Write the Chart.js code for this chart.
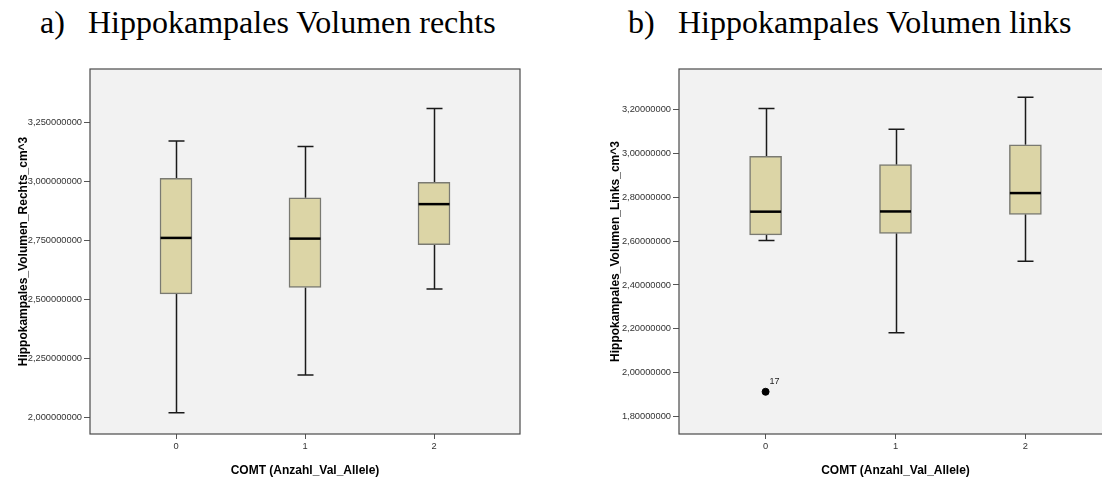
<!DOCTYPE html>
<html>
<head>
<meta charset="utf-8">
<script src="https://cdn.jsdelivr.net/npm/chart.js@4"></script>
<style>
  body { margin: 0; width: 1102px; height: 477px; overflow: hidden; background: #fff; position: relative; }
  .title { position: absolute; top: 6px; font: 32px/32px "Liberation Serif", "Times New Roman", serif; color: #000; white-space: nowrap; }
  canvas { position: absolute; top: 40px; }
</style>
</head>
<body>
<div class="title" style="left:40px">a)</div>
<div class="title" style="left:88px">Hippokampales Volumen rechts</div>
<div class="title" style="left:628px">b)</div>
<div class="title" style="left:678px">Hippokampales Volumen links</div>
<canvas id="chartRechts" width="560" height="437" style="left:0"></canvas>
<canvas id="chartLinks" width="560" height="437" style="left:560px"></canvas>
<script>
// COMT groups (number of Val alleles)
const categories = [0, 1, 2];

// right hippocampus, cm^3
const rechtsMin = [2.021, 2.181, 2.545];
const rechtsQ1 = [2.524, 2.551, 2.732];
const rechtsMedian = [2.761, 2.758, 2.904];
const rechtsQ3 = [3.013, 2.931, 2.996];
const rechtsMax = [3.171, 3.148, 3.309];
const rechtsTicks = [2.0, 2.25, 2.5, 2.75, 3.0, 3.25];

// left hippocampus, cm^3
const linksMin = [2.603, 2.182, 2.509];
const linksQ1 = [2.629, 2.636, 2.723];
const linksMedian = [2.735, 2.736, 2.820];
const linksQ3 = [2.988, 2.950, 3.041];
const linksMax = [3.206, 3.112, 3.258];
const linksTicks = [1.8, 2.0, 2.2, 2.4, 2.6, 2.8, 3.0, 3.2];

const outlierCat = [0];
const outlierValue = [1.912];
const outlierLabel = ['17'];

const sans = '"Liberation Sans", Arial, sans-serif';

function boxChart(canvasId, cfg) {
    const ctx = document.getElementById(canvasId).getContext('2d');
    const boxes = categories.map((c, i) => ({ x: c, y: [cfg.q1[i], cfg.q3[i]] }));
    const outliers = (cfg.outCat || []).map((c, i) => ({ x: c, y: cfg.outVal[i] }));

    const boxLines = {
        id: 'boxLines',
        beforeDraw(chart) {
            const a = chart.chartArea;
            const c = chart.ctx;
            c.save();
            c.fillStyle = '#f2f2f2';
            c.fillRect(a.left, a.top, a.right - a.left, a.bottom - a.top);
            c.restore();
        },
        beforeDatasetsDraw(chart) {
            const xs = chart.scales.x, ys = chart.scales.y;
            const c = chart.ctx;
            c.save();
            c.strokeStyle = '#1a1a1a';
            c.lineWidth = 1.5;
            categories.forEach((cat, i) => {
                const px = Math.round(xs.getPixelForValue(cat)) + 0.5;
                const lo = ys.getPixelForValue(cfg.min[i]);
                const hi = ys.getPixelForValue(cfg.max[i]);
                c.beginPath();
                c.moveTo(px, lo); c.lineTo(px, ys.getPixelForValue(cfg.q1[i]));
                c.moveTo(px, ys.getPixelForValue(cfg.q3[i])); c.lineTo(px, hi);
                c.moveTo(px - 8, lo); c.lineTo(px + 8, lo);
                c.moveTo(px - 8, hi); c.lineTo(px + 8, hi);
                c.stroke();
            });
            c.restore();
        },
        afterDatasetsDraw(chart) {
            const xs = chart.scales.x, ys = chart.scales.y;
            const a = chart.chartArea;
            const c = chart.ctx;
            c.save();
            c.strokeStyle = '#000';
            c.lineWidth = 2.5;
            categories.forEach((cat, i) => {
                const px = xs.getPixelForValue(cat);
                const py = ys.getPixelForValue(cfg.median[i]);
                c.beginPath();
                c.moveTo(px - 15.5, py); c.lineTo(px + 15.5, py);
                c.stroke();
            });
            c.fillStyle = '#222';
            c.font = '9px ' + sans;
            c.textBaseline = 'middle';
            (cfg.outCat || []).forEach((cat, i) => {
                c.fillText(cfg.outLabel[i], xs.getPixelForValue(cat) + 4, ys.getPixelForValue(cfg.outVal[i]) - 10);
            });
            c.strokeStyle = '#4a4a4a';
            c.lineWidth = 1.2;
            c.strokeRect(a.left, a.top, a.right - a.left, a.bottom - a.top);
            c.restore();
        }
    };

    return new Chart(ctx, {
        data: {
            datasets: [
                {
                    type: 'bar',
                    data: boxes,
                    backgroundColor: '#dcd5a6',
                    borderColor: '#7a7a72',
                    borderWidth: 1.5,
                    borderSkipped: false,
                    barThickness: 32,
                },
                {
                    type: 'scatter',
                    data: outliers,
                    pointRadius: 3.5,
                    backgroundColor: '#000',
                    borderColor: '#000',
                },
            ]
        },
        options: {
            responsive: false,
            animation: false,
            layout: { padding: { top: 29, left: 0, right: cfg.padRight, bottom: 0 } },
            plugins: {
                legend: { display: false },
                tooltip: { enabled: false },
            },
            scales: {
                x: {
                    type: 'linear',
                    min: -2 / 3,
                    max: 8 / 3,
                    offset: false,
                    afterBuildTicks: s => { s.ticks = categories.map(v => ({ value: v })); },
                    afterFit: s => { s.height = 43; },
                    grid: { drawOnChartArea: false, offset: false, tickLength: 5, color: '#555' },
                    border: { display: false },
                    ticks: { font: { family: sans, size: 9.3 }, color: '#333', padding: 2, maxRotation: 0, callback: v => String(v) },
                    title: {
                        display: true,
                        text: 'COMT (Anzahl_Val_Allele)',
                        color: '#000',
                        font: { family: sans, size: 12, weight: 'bold', lineHeight: 1 },
                        padding: 0,
                    },
                },
                y: {
                    type: 'linear',
                    min: cfg.yMin,
                    max: cfg.yMax,
                    afterBuildTicks: s => { s.ticks = cfg.ticks.map(v => ({ value: v })); },
                    afterFit: s => { s.width = cfg.yWidth; },
                    grid: { drawOnChartArea: false, tickLength: 6, color: '#555' },
                    border: { display: false },
                    ticks: {
                        font: { family: sans, size: 9.3 },
                        color: '#333',
                        padding: 2,
                        callback: v => v.toFixed(cfg.decimals).replace('.', ','),
                    },
                    title: {
                        display: true,
                        text: cfg.yTitle,
                        color: '#000',
                        font: { family: sans, size: 12, weight: 'bold', lineHeight: 1.2 },
                        padding: { top: cfg.titlePad, bottom: 0 },
                    },
                },
            }
        },
        plugins: [boxLines]
    });
}

boxChart('chartRechts', {
    min: rechtsMin, q1: rechtsQ1, median: rechtsMedian, q3: rechtsQ3, max: rechtsMax,
    ticks: rechtsTicks, yMin: 1.931, yMax: 3.476, decimals: 9,
    yTitle: 'Hippokampales_Volumen_Rechts_cm^3',
    yWidth: 90, padRight: 40, titlePad: 16,
});

boxChart('chartLinks', {
    min: linksMin, q1: linksQ1, median: linksMedian, q3: linksQ3, max: linksMax,
    ticks: linksTicks, yMin: 1.719, yMax: 3.387, decimals: 8,
    yTitle: 'Hippokampales_Volumen_Links_cm^3',
    yWidth: 119, padRight: 8, titlePad: 48,
    outCat: outlierCat, outVal: outlierValue, outLabel: outlierLabel,
});
</script>
</body>
</html>
